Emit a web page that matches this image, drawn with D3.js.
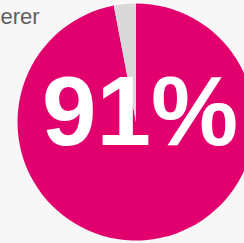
<!DOCTYPE html>
<html><head><meta charset="utf-8">
<script src="https://cdn.jsdelivr.net/npm/d3@7"></script>
<style>html,body{margin:0;padding:0;background:#f7f7f7;overflow:hidden}</style>
</head><body>
<script>
const categories = ["Ja", "Nein"];
const values = [97, 3];
const colors = ["#e2006f", "#d9d9d9"];
const bigLabel = "91%";
const titleText = "erer";

const W = 244, H = 243;
const svg = d3.select("body").append("svg").attr("width", W).attr("height", H);
svg.append("rect").attr("width", W).attr("height", H).attr("fill", "#f7f7f7");

const cx = 136, cy = 122, r = 118.5;
const pie = d3.pie().sort(null)(values);
const arc = d3.arc().innerRadius(0).outerRadius(r);
const color = d3.scaleOrdinal().domain(categories).range(colors);
const g = svg.append("g").attr("transform", `translate(${cx},${cy})`);
g.selectAll("path").data(pie).join("path")
  .attr("d", arc).attr("fill", (d, i) => color(categories[i]));

svg.append("text").attr("x", 0.5).attr("y", 24).attr("text-anchor", "start")
  .attr("font-family", "Liberation Sans, Arial, sans-serif").attr("font-size", 22)
  .attr("fill", "#606060").text(titleText);

svg.append("text").attr("x", 140).attr("y", 145).attr("text-anchor", "middle")
  .attr("font-family", "Liberation Sans, Arial, sans-serif").attr("font-weight", "bold")
  .attr("font-size", 98).attr("fill", "#ffffff").text(bigLabel);
</script>
</body></html>
